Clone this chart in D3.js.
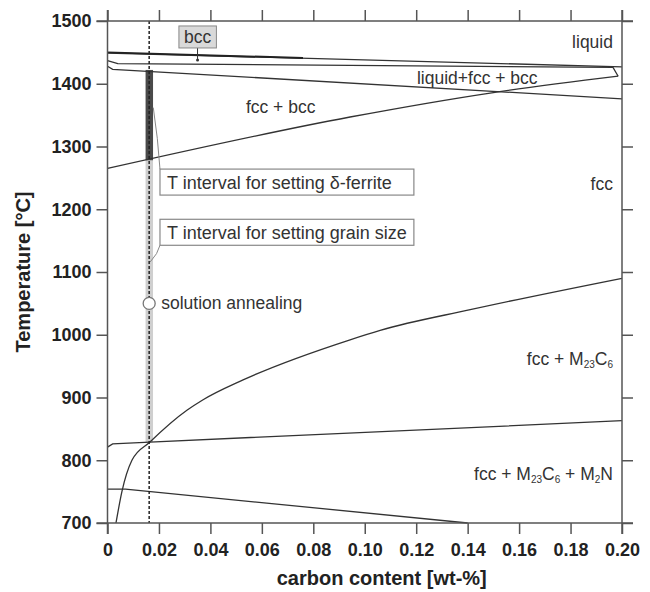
<!DOCTYPE html>
<html>
<head>
<meta charset="utf-8">
<script src="https://cdn.jsdelivr.net/npm/d3@7"></script>
<style>
  body { margin: 0; background: #fff; }
  svg text { font-family: "Liberation Sans", Arial, sans-serif; }
</style>
</head>
<body>
<svg id="chart" width="650" height="592"></svg>
<script>
// phase boundaries, [carbon wt-%, temperature degC]
var liquidus = [[0, 1449], [0.2, 1427]];
var bccSliver = [[0, 1450], [0.076, 1441]];
var liqFccBccTop = [[0, 1437], [0.004, 1432], [0.1965, 1426], [0.1985, 1412]];
var fccBccUpper = [[0, 1428], [0.002, 1423], [0.2, 1376]];
var fccBccLower = [[0, 1265], [0.0943, 1347], [0.15, 1386], [0.1985, 1412]];
var carbideSolvus = [[0.0033, 700], [0.0056, 750], [0.0095, 800], [0.0165, 829], [0.031, 880],
  [0.037, 896], [0.0527, 928], [0.0943, 992], [0.106, 1007], [0.141, 1040], [0.2, 1090]];
var nitrideSolvus = [[0, 821], [0.002, 826], [0.0165, 829], [0.2, 863]];
var lowerLine = [[0, 754], [0.007, 754], [0.14, 700]];

var xTicks = [0, 0.02, 0.04, 0.06, 0.08, 0.10, 0.12, 0.14, 0.16, 0.18, 0.20];
var yTicks = [700, 800, 900, 1000, 1100, 1200, 1300, 1400, 1500];

// heat treatment of the steel
var steelCarbon = 0.0162;
var bandCarbon = [0.0148, 0.0177];
var deltaFerriteT = [1278, 1422];
var grainSizeT = [829, 1278];
var annealT = 1050;

// region labels: text parts, carbon, temperature, anchor
var regionLabels = [
  {parts: [['liquid']], c: 0.1965, t: 1457, anchor: 'end'},
  {parts: [['liquid+fcc + bcc']], c: 0.1203, t: 1400, anchor: 'start'},
  {parts: [['fcc + bcc']], c: 0.0538, t: 1353, anchor: 'start'},
  {parts: [['fcc']], c: 0.1965, t: 1231, anchor: 'end'},
  {parts: [['fcc + M'], ['23', 'sub'], ['C'], ['6', 'sub']], c: 0.1965, t: 952, anchor: 'end'},
  {parts: [['fcc + M'], ['23', 'sub'], ['C'], ['6', 'sub'], [' + M'], ['2', 'sub'], ['N']], c: 0.1965, t: 768, anchor: 'end'}
];

// boxed notes: text, box corner [carbon, temperature], leader start
var boxLabels = [
  {text: 'T interval for setting \u03b4-ferrite', c: 0.0204, t: 1264, from: [0.0178, 1362]},
  {text: 'T interval for setting grain size', c: 0.0204, t: 1184, from: [0.0166, 1116]}
];
var boxEndCarbon = 0.1191;

var svg = d3.select('#chart');
var margin = {top: 21, right: 28, bottom: 69, left: 107.5};
var width = 650 - margin.left - margin.right;
var height = 592 - margin.top - margin.bottom;
var TICK = 11;
var INK = '#333';

var x = d3.scaleLinear().domain([0, 0.2]).range([0, width]);
var y = d3.scaleLinear().domain([700, 1500]).range([height, 0]);

var g = svg.append('g').attr('transform', 'translate(' + margin.left + ',' + margin.top + ')');

// steel band
g.append('rect')
    .attr('x', x(bandCarbon[0])).attr('width', x(bandCarbon[1]) - x(bandCarbon[0]))
    .attr('y', y(grainSizeT[1])).attr('height', y(grainSizeT[0]) - y(grainSizeT[1]))
    .attr('fill', '#cfcfcf');
g.append('rect')
    .attr('x', x(bandCarbon[0])).attr('width', x(bandCarbon[1]) - x(bandCarbon[0]))
    .attr('y', y(deltaFerriteT[1])).attr('height', y(deltaFerriteT[0]) - y(deltaFerriteT[1]))
    .attr('fill', '#4a4a4a');

var line = d3.line().x(function (d) { return x(d[0]); }).y(function (d) { return y(d[1]); });
var smooth = d3.line().curve(d3.curveMonotoneX).x(function (d) { return x(d[0]); }).y(function (d) { return y(d[1]); });

[liquidus, liqFccBccTop, fccBccUpper, nitrideSolvus, lowerLine].forEach(function (d) {
  g.append('path').attr('d', line(d)).attr('fill', 'none').attr('stroke', INK).attr('stroke-width', 1.3);
});
[fccBccLower, carbideSolvus].forEach(function (d) {
  g.append('path').attr('d', smooth(d)).attr('fill', 'none').attr('stroke', INK).attr('stroke-width', 1.3);
});
g.append('path').attr('d', line(bccSliver)).attr('fill', 'none').attr('stroke', '#222').attr('stroke-width', 2);

// dashed steel composition
g.append('line')
    .attr('x1', x(steelCarbon)).attr('x2', x(steelCarbon))
    .attr('y1', 0).attr('y2', height)
    .attr('stroke', '#222').attr('stroke-width', 1.5).attr('stroke-dasharray', '3,2');

// axes
var axisFont = function (sel) {
  sel.selectAll('text').attr('font-size', 18).attr('font-weight', 'bold').attr('fill', '#222')
      .style('font-family', '"Liberation Sans", Arial, sans-serif');
  sel.selectAll('line').attr('stroke', '#555').attr('stroke-width', 1.5);
  sel.select('.domain').remove();
};
g.append('g').attr('transform', 'translate(0,' + height + ')')
    .call(d3.axisBottom(x).tickValues(xTicks).tickSize(TICK).tickPadding(9)
        .tickFormat(function (d) { return d === 0 ? '0' : d3.format('.2f')(d); }))
    .call(axisFont);
g.append('g')
    .call(d3.axisTop(x).tickValues(xTicks).tickSize(TICK).tickFormat(''))
    .call(axisFont);
g.append('g')
    .call(d3.axisLeft(y).tickValues(yTicks).tickSize(TICK).tickPadding(5).tickFormat(d3.format('d')))
    .call(axisFont);
g.append('g').attr('transform', 'translate(' + width + ',0)')
    .call(d3.axisRight(y).tickValues(yTicks).tickSize(TICK).tickFormat(''))
    .call(axisFont);

// frame, overshooting the corners
var frame = g.append('g').attr('stroke', '#555').attr('stroke-width', 1.5);
frame.append('line').attr('x1', -TICK).attr('x2', width + TICK).attr('y1', 0).attr('y2', 0);
frame.append('line').attr('x1', -TICK).attr('x2', width + TICK).attr('y1', height).attr('y2', height);
frame.append('line').attr('x1', 0).attr('x2', 0).attr('y1', -TICK).attr('y2', height + TICK);
frame.append('line').attr('x1', width).attr('x2', width).attr('y1', -TICK).attr('y2', height + TICK);

// region labels
regionLabels.forEach(function (d) {
  var t = g.append('text').attr('x', x(d.c)).attr('y', y(d.t)).attr('text-anchor', d.anchor)
      .attr('font-size', 17.5).attr('fill', INK);
  d.parts.forEach(function (p, i) {
    var s = t.append('tspan').text(p[0]);
    if (p[1] === 'sub') s.attr('font-size', 10).attr('dy', 3);
    else if (i > 0) s.attr('dy', -3);
  });
});

// bcc marker
var bccC = 0.035;
g.append('line').attr('x1', x(bccC)).attr('x2', x(bccC)).attr('y1', y(1459)).attr('y2', y(1438))
    .attr('stroke', '#333').attr('stroke-width', 1);
g.append('circle').attr('cx', x(bccC)).attr('cy', y(1438)).attr('r', 1.5).attr('fill', '#333');
var bccBox = g.append('rect');
var bccText = g.append('text').attr('x', x(bccC)).attr('y', y(1465)).attr('text-anchor', 'middle')
    .attr('font-size', 17.5).attr('fill', INK).text('bcc');
var bb = bccText.node().getBBox();
bccBox.attr('x', bb.x - 5).attr('y', bb.y - 1).attr('width', bb.width + 10).attr('height', bb.height + 2)
    .attr('fill', '#d9d9d9').attr('stroke', '#888').attr('stroke-width', 1);

// boxed annotations with leaders
boxLabels.forEach(function (d) {
  var bx = x(d.c), by = y(d.t);
  g.append('rect').attr('x', bx).attr('y', by).attr('width', x(boxEndCarbon) - bx).attr('height', 26)
      .attr('fill', '#fff').attr('stroke', '#888').attr('stroke-width', 1.2);
  g.append('text').attr('x', bx + 7).attr('y', by + 19.5).attr('font-size', 18).attr('fill', INK).text(d.text);
  var fx = x(d.from[0]), fy = y(d.from[1]);
  var cornerY = d.from[1] > d.t ? by : by + 26;
  g.append('path')
      .attr('d', 'M' + fx + ',' + fy + ' Q' + (bx - 2) + ',' + ((fy + cornerY) / 2) + ' ' + bx + ',' + cornerY)
      .attr('fill', 'none').attr('stroke', '#888').attr('stroke-width', 1);
});

// solution annealing
g.append('circle').attr('cx', x(steelCarbon)).attr('cy', y(annealT)).attr('r', 6)
    .attr('fill', '#fff').attr('stroke', '#777').attr('stroke-width', 1.3);
g.append('text').attr('x', x(steelCarbon) + 12).attr('y', y(annealT) + 6)
    .attr('font-size', 17.5).attr('fill', INK).text('solution annealing');

// axis titles
svg.append('text').attr('x', margin.left + width / 2 + 17).attr('y', 585).attr('text-anchor', 'middle')
    .attr('font-size', 20).attr('font-weight', 'bold').attr('fill', '#222').text('carbon content [wt-%]');
svg.append('text').attr('transform', 'translate(30,' + (margin.top + height / 2) + ') rotate(-90)')
    .attr('text-anchor', 'middle').attr('font-size', 20).attr('font-weight', 'bold').attr('fill', '#222')
    .text('Temperature [\u00b0C]');
</script>
</body>
</html>
